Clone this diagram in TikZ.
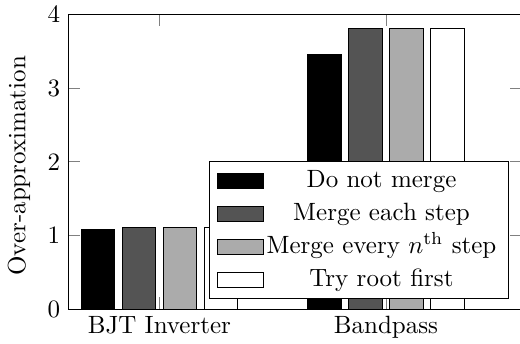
\documentclass[tikz,border=0pt]{standalone}
\usetikzlibrary{positioning}

\begin{document}
\begin{tikzpicture}[x=0.4pt, y=-0.4pt,
  axisline/.style={line width=0.4pt},
  tickmark/.style={very thin, gray},
  bar/.style={draw=black, line width=0.4pt},
  lbl/.style={inner sep=0pt}]
\useasboundingbox (0,0) rectangle (520,343);

% 刻度线
\draw[tickmark] (68.3,235.3) -- +(11.7,0);
\draw[tickmark] (68.3,161.7) -- +(11.7,0);
\draw[tickmark] (68.3,88) -- +(11.7,0);
\draw[tickmark] (520,235.3) -- +(-9.7,0);
\draw[tickmark] (520,161.7) -- +(-9.7,0);
\draw[tickmark] (520,88) -- +(-9.7,0);
\draw[tickmark] (159.4,309) -- +(0,-11.7);
\draw[tickmark] (159.4,14.3) -- +(0,11.7);
\draw[tickmark] (386,309) -- +(0,-11.7);
\draw[tickmark] (386,14.3) -- +(0,11.7);

% BJT Inverter 柱形
\draw[bar, fill=black] (81.1,309) rectangle (114.6,229);
\draw[bar, fill=black!67] (122.1,309) rectangle (155.6,227.7);
\draw[bar, fill=black!33] (163.1,309) rectangle (196.6,227.7);
\draw[bar, fill=white] (204.1,309) rectangle (237.6,227.7);

% Bandpass 柱形
\draw[bar, fill=black] (307.7,309) rectangle (341.2,54);
\draw[bar, fill=black!67] (348.7,309) rectangle (382.2,28.3);
\draw[bar, fill=black!33] (389.7,309) rectangle (423.2,28.3);
\draw[bar, fill=white] (430.7,309) rectangle (464.2,28.3);

% 坐标轴
\draw[axisline] (520,14.3) -- (68.3,14.3) -- (68.3,309) -- (520,309);

% 纵轴标签
\node[lbl, anchor=east] (y0) at (60.5,309) {0};
\node[lbl, anchor=east] (y1) at (60.5,235.3) {1};
\node[lbl, anchor=east] (y2) at (60.5,161.7) {2};
\node[lbl, anchor=east] (y3) at (60.5,88) {3};
\node[lbl, anchor=east] (y4) at (60.5,14.3) {4};
\node[rotate=90] (ylabel) at (19,165.8) {Over-approximation};

% 横轴标签
\node[lbl, anchor=north] (bjt) at (159.4,316) {BJT Inverter};
\node[lbl, anchor=north] (bandpass) at (386,316) {Bandpass};

% 图例
\draw[axisline, fill=white] (209.3,161.7) rectangle (508.3,298.3);
\draw[bar, fill=black] (217.3,173.3) rectangle (263.3,188.3);
\draw[bar, fill=black!67] (217.3,206) rectangle (263.3,221);
\draw[bar, fill=black!33] (217.3,239.3) rectangle (263.3,254.3);
\draw[bar, fill=white] (217.3,272.7) rectangle (263.3,287.7);
\node[lbl, anchor=base] (nomerge) at (381.5,187.3) {Do not merge};
\node[lbl, anchor=base] (eachstep) at (381.5,220) {Merge each step};
\node[lbl, anchor=base] (nthstep) at (381.5,253.3) {Merge every $n^{\mathrm{th}}$ step};
\node[lbl, anchor=base] (rootfirst) at (381.5,286.7) {Try root first};
\end{tikzpicture}
\end{document}
